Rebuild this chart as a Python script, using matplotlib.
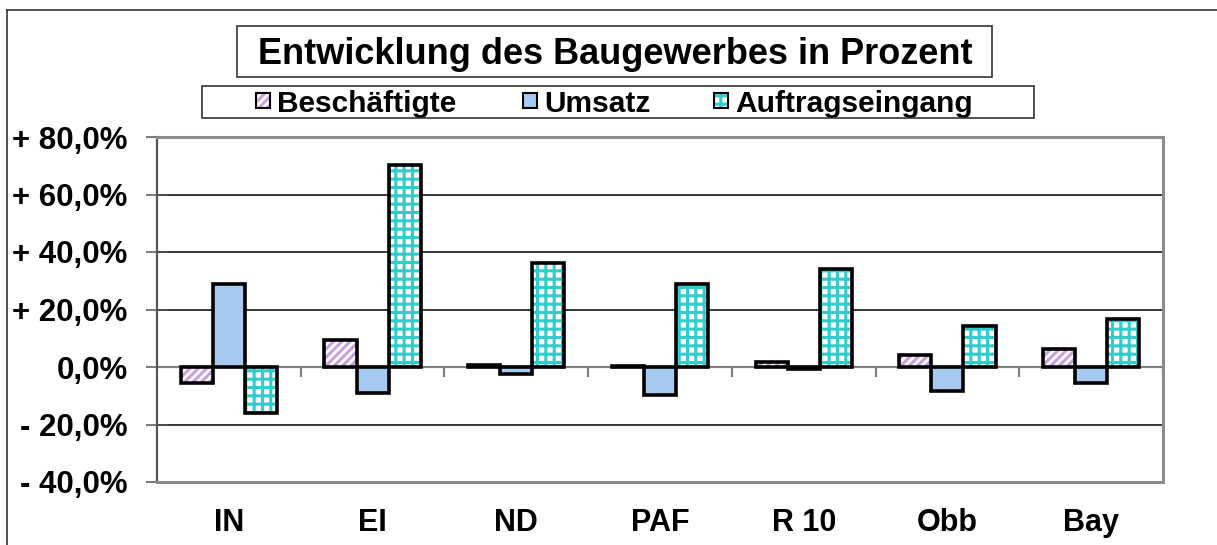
import numpy as np
import matplotlib
matplotlib.use('Agg')
from matplotlib import pyplot as plt
from matplotlib.lines import Line2D

# Daten (Veränderung in %)
regionen = ['IN', 'EI', 'ND', 'PAF', 'R 10', 'Obb', 'Bay']
beschaeftigte = [-5.6, 9.4, 0.8, 0.3, 1.7, 4.2, 6.3]
umsatz = [28.9, -9.0, -2.4, -9.7, -0.8, -8.3, -5.6]
auftragseingang = [-16.0, 70.3, 36.2, 28.9, 34.1, 14.3, 16.7]

serien = ['Beschäftigte', 'Umsatz', 'Auftragseingang']
yticks = [-40, -20, 0, 20, 40, 60, 80]
ytick_labels = ['- 40,0%', '- 20,0%', '0,0%', '+ 20,0%', '+ 40,0%', '+ 60,0%', '+ 80,0%']

plt.rcParams['font.family'] = ['Liberation Sans', 'DejaVu Sans']
plt.rcParams['font.weight'] = 'bold'
plt.rcParams['hatch.linewidth'] = 2.2

W, H = 1217, 545
fig = plt.figure(figsize=(W / 100, H / 100), dpi=100)
ax = fig.add_axes([157 / W, 1 - 482 / H, (1163 - 157) / W, (482 - 137) / H])

x = np.arange(len(regionen))
bw = 0.223
# (werte, face, hatch, hatch-farbe)
stile = [
    (beschaeftigte, 'white', '////', '#c9a0dc'),
    (umsatz, '#a6caf0', '', '#a6caf0'),
    (auftragseingang, 'white', '++', '#33cccc'),
]
for i, (werte, face, hatch, hc) in enumerate(stile):
    pos = x + (i - 1) * bw
    ax.bar(pos, werte, bw, color=face, hatch=hatch, edgecolor=hc, linewidth=0, zorder=3)
    ax.bar(pos, werte, bw, color='none', edgecolor='black', linewidth=2.6, zorder=4)

ax.set_xlim(-0.5, len(regionen) - 0.5)
ax.set_ylim(-40, 80)

# Gitterlinien
for yv in yticks[1:-1]:
    if yv == 0:
        continue
    ax.axhline(yv, color='black', linewidth=1.1, zorder=1)
ax.axhline(0, color='#808080', linewidth=1.6, zorder=2)
# Teilstriche an der Nulllinie
ax.vlines(x + 0.5, -3.5, 0, color='#808080', linewidth=1.6, zorder=2)

ax.set_yticks(yticks)
ax.set_yticklabels(ytick_labels, fontsize=22.5, fontweight='bold')
ax.tick_params(axis='y', direction='inout', length=16, width=1.1, color='#555555', pad=13)
ax.set_xticks(x)
ax.set_xticklabels(regionen, fontsize=22, fontweight='bold')
ax.tick_params(axis='x', length=0, pad=19)

for s in ax.spines.values():
    s.set_color('#8c8c8c')
    s.set_linewidth(2.2)
ax.spines['left'].set_color('#555555')
ax.spines['left'].set_linewidth(1.6)

# Titel mit Rahmen
fig.text(615 / W, 1 - 64 / H, 'Entwicklung des Baugewerbes in Prozent', fontsize=26,
         fontweight='bold', ha='center', va='baseline')
fig.patches.append(plt.Rectangle((237 / W, 1 - 77 / H), (992 - 237) / W, (77 - 26) / H,
                                 transform=fig.transFigure, fill=False, edgecolor='#333333',
                                 linewidth=1.2))

# Legende mit Rahmen
leg_x = [256, 523, 714]
for (werte, face, hatch, hc), name, lx in zip(stile, serien, leg_x):
    fig.patches.append(plt.Rectangle((lx / W, 1 - 108 / H), 14 / W, 15 / H,
                                     transform=fig.transFigure, facecolor=face, hatch=hatch,
                                     edgecolor=hc, linewidth=0))
    fig.patches.append(plt.Rectangle((lx / W, 1 - 108 / H), 14 / W, 15 / H,
                                     transform=fig.transFigure, fill=False,
                                     edgecolor='black', linewidth=1.5))
    fig.text((lx + 21) / W, 1 - 112 / H, name, fontsize=21.5, fontweight='bold',
             ha='left', va='baseline')
# Unterlängen abschneiden wie im Original
fig.patches.append(plt.Rectangle((190 / W, 1 - 128 / H), (1045 - 190) / W, 10 / H,
                                 transform=fig.transFigure, facecolor='white',
                                 edgecolor='none', zorder=5))
fig.patches.append(plt.Rectangle((202 / W, 1 - 118 / H), (1034 - 202) / W, (118 - 86) / H,
                                 transform=fig.transFigure, fill=False, edgecolor='#333333',
                                 linewidth=1.2, zorder=6))

# Rahmen um die Grafik
fig.add_artist(Line2D([7 / W, 7 / W], [0, 1 - 10 / H], color='#333333', linewidth=1.2))
fig.add_artist(Line2D([7 / W, 1], [1 - 10 / H, 1 - 10 / H], color='#333333', linewidth=1.2))

fig.savefig('out.png', dpi=100)
